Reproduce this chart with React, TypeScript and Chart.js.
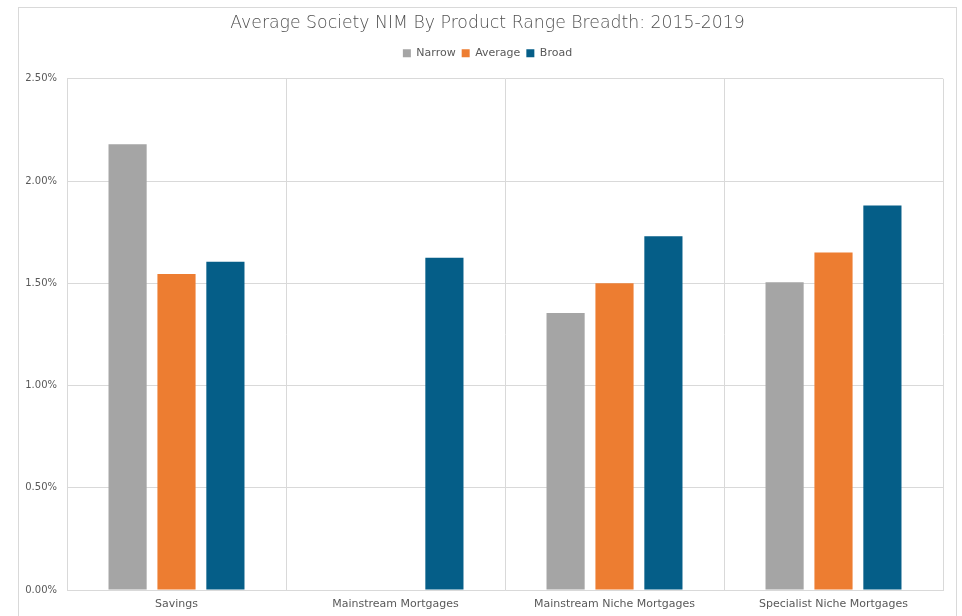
import React, { useEffect, useRef } from "react";
import { Chart, registerables } from "chart.js";

Chart.register(...registerables);

const categories = ["Savings", "Mainstream Mortgages", "Mainstream Niche Mortgages", "Specialist Niche Mortgages"];
const narrow = [2.18, null, 1.355, 1.505];
const average = [1.545, null, 1.5, 1.65];
const broad = [1.605, 1.625, 1.73, 1.88];
const yTicks = [0, 0.5, 1.0, 1.5, 2.0, 2.5];

const FONT = "'DejaVu Sans', sans-serif";
const TEXT = "#595959";
const GRID = "#D9D9D9";

export default function App() {
  const ref = useRef<HTMLCanvasElement | null>(null);

  useEffect(() => {
    document.documentElement.style.overflow = "hidden";
    document.body.style.overflow = "hidden";
    const legendMargin = {
      id: "legendMargin",
      beforeInit(chart: any) {
        const orig = chart.legend.fit;
        chart.legend.fit = function () {
          orig.bind(chart.legend)();
          this.height += 10;
        };
      },
    };
    const chart = new Chart(ref.current as HTMLCanvasElement, {
      type: "bar",
      data: {
        labels: categories,
        datasets: [
          { label: "Narrow", data: narrow, backgroundColor: "#A5A5A5" },
          { label: "Average", data: average, backgroundColor: "#ED7D31" },
          { label: "Broad", data: broad, backgroundColor: "#055E88" },
        ],
      },
      options: {
        animation: false,
        responsive: false,
        maintainAspectRatio: false,
        layout: { padding: { left: 13, right: 13, top: 0, bottom: 0 } },
        datasets: { bar: { categoryPercentage: 0.67, barPercentage: 0.78 } },
        plugins: {
          title: {
            display: true,
            text: "Average Society NIM By Product Range Breadth: 2015-2019",
            color: "#505050",
            font: { family: FONT, size: 17.3, weight: 200 },
            padding: { top: 5, bottom: 8 },
          },
          legend: {
            display: true,
            position: "top",
            labels: {
              color: TEXT,
              boxWidth: 8,
              boxHeight: 8,
              padding: 6,
              font: { family: FONT, size: 11 },
            },
          },
          tooltip: { enabled: false },
        },
        scales: {
          x: {
            grid: { color: GRID, drawTicks: false, offset: true },
            border: { color: GRID },
            ticks: { color: TEXT, font: { family: FONT, size: 11 }, padding: 8, maxRotation: 0 },
            afterFit(scale: any) {
              scale.height = 30;
            },
          },
          y: {
            min: 0,
            max: 2.5,
            afterBuildTicks(scale: any) {
              scale.ticks = yTicks.map((v) => ({ value: v }));
            },
            grid: { color: GRID, drawTicks: false },
            border: { color: GRID },
            ticks: {
              color: TEXT,
              font: { family: FONT, size: 10 },
              padding: 10,
              callback: (v: any) => Number(v).toFixed(2) + "%",
            },
            afterFit(scale: any) {
              scale.width = 35;
              scale._computeLabelArea = () => undefined;
            },
          },
        },
      },
      plugins: [legendMargin],
    });
    return () => chart.destroy();
  }, []);

  return (
    <div
      style={{
        position: "absolute",
        left: 18,
        top: 7,
        width: 937,
        height: 612,
        border: "1px solid #D9D9D9",
        background: "#fff",
      }}
    >
      <canvas ref={ref} width={937} height={612} style={{ display: "block" }} />
    </div>
  );
}
